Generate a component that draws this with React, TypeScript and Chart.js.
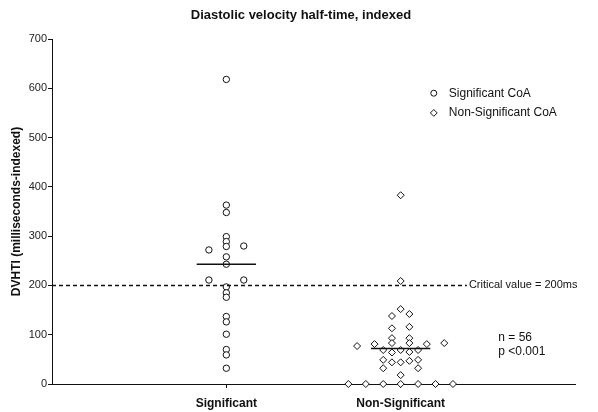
import React, { useEffect, useRef } from "react";
import { Chart, registerables } from "chart.js";

Chart.register(...registerables);

// ---- Data ----
const categories = ["Significant", "Non-Significant"];
const categoryPositions = [1, 2];

// Significant CoA (circles): values and horizontal jitter (x units)
const sigValues = [618, 363, 348, 299, 289, 279, 272, 280, 258, 243, 211, 211, 197, 185, 176, 137, 126, 101, 70, 59, 32];
const sigOffsets = [0, 0, 0, 0, 0, 0, -0.1, 0.1, 0, 0, -0.1, 0.1, 0, 0, 0, 0, 0, 0, 0, 0, 0];

// Non-Significant CoA (diamonds)
const nonSigValues = [383, 209, 152, 138, 142, 113, 116, 93, 83, 93, 83, 77, 81, 81, 83, 69, 69, 69, 64, 65, 49, 44, 44, 47, 49, 32, 32, 18, 0, 0, 0, 0, 0, 0, 0];
const nonSigOffsets = [0, 0, 0, -0.05, 0.05, -0.05, 0.05, -0.05, -0.05, 0.05, 0.05, -0.25, -0.15, 0.15, 0.25, -0.1, 0, 0.1, -0.05, 0.05, -0.1, -0.05, 0, 0.05, 0.1, -0.1, 0.1, 0, -0.3, -0.2, -0.1, 0, 0.1, 0.2, 0.3];

const medians = [243, 72];
const criticalValue = 200;
const yTicks = [0, 100, 200, 300, 400, 500, 600, 700];

const FONT = "'Liberation Sans', Arial, Helvetica, sans-serif";

const annotationPlugin = {
  id: "annotations",
  afterDraw(chart: any) {
    const { ctx } = chart;
    const xs = chart.scales.x;
    const ys = chart.scales.y;
    ctx.save();
    ctx.fillStyle = "#111";
    // Title
    ctx.font = `bold 13px ${FONT}`;
    ctx.textAlign = "center";
    ctx.textBaseline = "middle";
    ctx.fillText("Diastolic velocity half-time, indexed", 301, 15);

    // Critical value label
    ctx.font = `11px ${FONT}`;
    ctx.textAlign = "left";
    ctx.fillText("Critical value = 200ms", xs.getPixelForValue(2.38) + 2, ys.getPixelForValue(criticalValue));

    // n / p
    ctx.font = `12px ${FONT}`;
    ctx.fillText("n = 56", xs.getPixelForValue(2.56), ys.getPixelForValue(94));
    ctx.fillText("p <0.001", xs.getPixelForValue(2.56), ys.getPixelForValue(66));

    // Legend
    const lx = xs.getPixelForValue(2.19);
    const y1 = ys.getPixelForValue(590);
    const y2 = ys.getPixelForValue(550);
    ctx.strokeStyle = "#111";
    ctx.lineWidth = 1;
    ctx.beginPath();
    ctx.arc(lx, y1, 3, 0, Math.PI * 2);
    ctx.stroke();
    ctx.beginPath();
    ctx.moveTo(lx, y2 - 3.4);
    ctx.lineTo(lx + 3.4, y2);
    ctx.lineTo(lx, y2 + 3.4);
    ctx.lineTo(lx - 3.4, y2);
    ctx.closePath();
    ctx.stroke();
    ctx.font = `12px ${FONT}`;
    ctx.fillText("Significant CoA", lx + 15, y1);
    ctx.fillText("Non-Significant CoA", lx + 15, y2);
    ctx.restore();
  },
};

export default function App() {
  const ref = useRef<HTMLCanvasElement | null>(null);

  useEffect(() => {
    document.body.style.margin = "0";
    if (!ref.current) return;

    const sigPoints = sigValues.map((v, i) => ({ x: categoryPositions[0] + sigOffsets[i], y: v }));
    const nonSigPoints = nonSigValues.map((v, i) => ({ x: categoryPositions[1] + nonSigOffsets[i], y: v }));

    const chart = new Chart(ref.current, {
      type: "scatter",
      data: {
        datasets: [
          {
            label: "Critical",
            data: [
              { x: 0, y: criticalValue },
              { x: 2.38, y: criticalValue },
            ],
            showLine: true,
            borderColor: "#111",
            borderWidth: 1.5,
            borderDash: [4, 3],
            pointRadius: 0,
            clip: false,
          } as any,
          {
            label: "Median sig",
            data: [
              { x: categoryPositions[0] - 0.17, y: medians[0] },
              { x: categoryPositions[0] + 0.17, y: medians[0] },
            ],
            showLine: true,
            borderColor: "#111",
            borderWidth: 1.5,
            pointRadius: 0,
          } as any,
          {
            label: "Median nonsig",
            data: [
              { x: categoryPositions[1] - 0.17, y: medians[1] },
              { x: categoryPositions[1] + 0.17, y: medians[1] },
            ],
            showLine: true,
            borderColor: "#111",
            borderWidth: 1.5,
            pointRadius: 0,
          } as any,
          {
            label: "Significant CoA",
            data: sigPoints,
            pointStyle: "circle",
            pointRadius: 3.2,
            borderColor: "#111",
            backgroundColor: "#fff",
            borderWidth: 1,
            clip: false,
          } as any,
          {
            label: "Non-Significant CoA",
            data: nonSigPoints,
            pointStyle: "rectRot",
            pointRadius: 3.5,
            borderColor: "#111",
            backgroundColor: "#fff",
            borderWidth: 1,
            clip: false,
          } as any,
        ],
      },
      options: {
        responsive: false,
        animation: false,
        layout: { padding: { left: 0, right: 23, top: 39, bottom: 0 } },
        plugins: {
          legend: { display: false },
          title: { display: false },
          tooltip: { enabled: false },
        },
        scales: {
          x: {
            type: "linear",
            min: 0,
            max: 3,
            afterBuildTicks: (scale: any) => {
              scale.ticks = categoryPositions.map((v) => ({ value: v }));
            },
            afterFit: (scale: any) => {
              scale.height = 28;
            },
            ticks: {
              autoSkip: false,
              maxRotation: 0,
              padding: 8,
              color: "#111",
              font: { family: FONT, size: 12, weight: "bold" },
              callback: (v: any) => {
                const idx = categoryPositions.indexOf(Number(v));
                return idx >= 0 ? categories[idx] : "";
              },
            },
            grid: { display: true, drawOnChartArea: false, drawTicks: true, tickLength: 4, color: "#111" },
            border: { display: true, color: "#111", width: 1 },
          },
          y: {
            type: "linear",
            min: 0,
            max: 700,
            afterBuildTicks: (scale: any) => {
              scale.ticks = yTicks.map((v) => ({ value: v }));
            },
            afterFit: (scale: any) => {
              scale.width = 52;
            },
            ticks: {
              padding: 1,
              color: "#222",
              font: { family: FONT, size: 11 },
            },
            grid: { display: true, drawOnChartArea: false, drawTicks: true, tickLength: 4, color: "#111" },
            border: { display: true, color: "#111", width: 1 },
            title: {
              display: true,
              text: "DVHTI (milliseconds-indexed)",
              color: "#111",
              font: { family: FONT, size: 12, weight: "bold" },
              padding: { top: 9, bottom: 0 },
            },
          },
        },
      } as any,
      plugins: [annotationPlugin],
    });

    return () => chart.destroy();
  }, []);

  return (
    <div style={{ width: 598, height: 412, background: "#fff" }}>
      <canvas ref={ref} width={598} height={412} style={{ display: "block" }} />
    </div>
  );
}
